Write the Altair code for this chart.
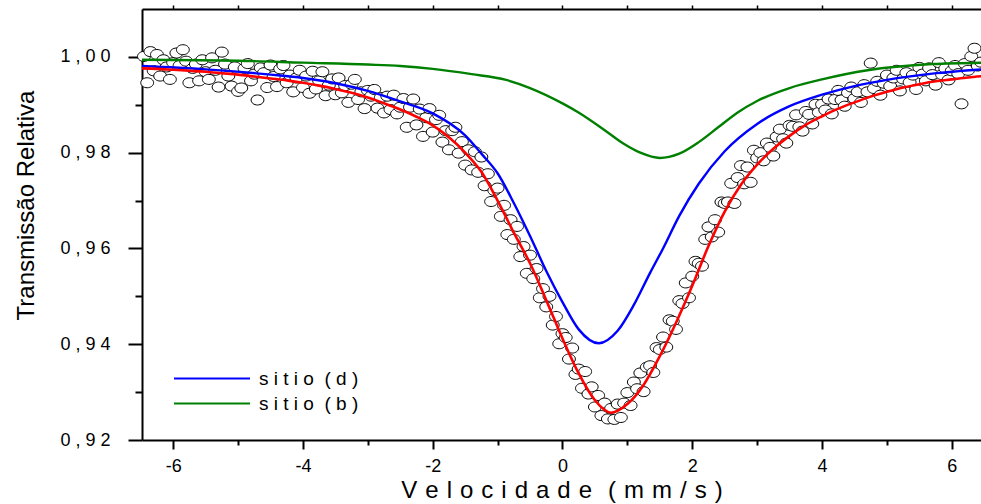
import json

import altair as alt
import numpy as np
import pandas as pd

FONT = "Liberation Sans"

# Measured Mossbauer spectrum: velocity channels 0.05 mm/s apart
velocity = np.round(np.linspace(-6.45, 6.45, 259), 2)
transmission = [
    1.0001, 0.9946, 1.0011, 0.9971, 1.0005, 0.9960, 0.9994, 0.9979, 0.9953, 0.9988,
    1.0008, 0.9982, 1.0015, 0.9991, 0.9946, 0.9976, 0.9985, 0.9950, 0.9994, 0.9969,
    0.9953, 0.9998, 0.9972, 0.9937, 1.0010, 0.9985, 0.9960, 0.9939, 0.9979, 0.9928,
    0.9935, 0.9976, 0.9986, 0.9950, 0.9964, 0.9910, 0.9977, 0.9967, 0.9936, 0.9983,
    0.9959, 0.9938, 0.9975, 0.9982, 0.9946, 0.9962, 0.9927, 0.9956, 0.9972, 0.9936,
    0.9960, 0.9924, 0.9970, 0.9933, 0.9950, 0.9969, 0.9919, 0.9941, 0.9954, 0.9921,
    0.9956, 0.9925, 0.9940, 0.9905, 0.9943, 0.9953, 0.9911, 0.9927, 0.9892, 0.9930,
    0.9918, 0.9932, 0.9893, 0.9915, 0.9883, 0.9918, 0.9890, 0.9920, 0.9881, 0.9895,
    0.9913, 0.9853, 0.9895, 0.9912, 0.9858, 0.9891, 0.9834, 0.9873, 0.9892, 0.9843,
    0.9869, 0.9878, 0.9822, 0.9846, 0.9806, 0.9846, 0.9853, 0.9799, 0.9823, 0.9774,
    0.9806, 0.9764, 0.9802, 0.9759, 0.9791, 0.9731, 0.9756, 0.9698, 0.9721, 0.9726,
    0.9667, 0.9690, 0.9629, 0.9660, 0.9619, 0.9646, 0.9583, 0.9604, 0.9548, 0.9586,
    0.9537, 0.9558, 0.9497, 0.9516, 0.9478, 0.9500, 0.9440, 0.9458, 0.9401, 0.9422,
    0.9414, 0.9369, 0.9392, 0.9337, 0.9348, 0.9308, 0.9343, 0.9296, 0.9311, 0.9269,
    0.9293, 0.9251, 0.9277, 0.9244, 0.9266, 0.9243, 0.9275, 0.9247, 0.9277, 0.9299,
    0.9272, 0.9321, 0.9307, 0.9340, 0.9301, 0.9352, 0.9355, 0.9341, 0.9393, 0.9389,
    0.9415, 0.9394, 0.9451, 0.9448, 0.9431, 0.9491, 0.9485, 0.9528, 0.9497, 0.9542,
    0.9573, 0.9569, 0.9563, 0.9619, 0.9645, 0.9624, 0.9660, 0.9634, 0.9697, 0.9694,
    0.9697, 0.9736, 0.9694, 0.9748, 0.9773, 0.9735, 0.9770, 0.9738, 0.9805, 0.9789,
    0.9800, 0.9783, 0.9820, 0.9811, 0.9793, 0.9833, 0.9849, 0.9829, 0.9820, 0.9857,
    0.9855, 0.9879, 0.9854, 0.9845, 0.9886, 0.9880, 0.9860, 0.9901, 0.9884, 0.9901,
    0.9889, 0.9912, 0.9881, 0.9911, 0.9930, 0.9910, 0.9897, 0.9925, 0.9937, 0.9913,
    0.9927, 0.9905, 0.9942, 0.9927, 0.9987, 0.9934, 0.9949, 0.9920, 0.9945, 0.9962,
    0.9939, 0.9956, 0.9972, 0.9929, 0.9954, 0.9967, 0.9947, 0.9962, 0.9932, 0.9978,
    0.9964, 0.9950, 0.9977, 0.9963, 0.9941, 0.9988, 0.9963, 0.9976, 0.9952, 0.9971,
    0.9982, 0.9965, 0.9902, 0.9986, 0.9972, 1.0001, 1.0018, 0.9981, 0.9989,
]

# Total fit
total_v = [
    -6.5, -6.25, -6.0, -5.75, -5.5, -5.25, -5.0, -4.75, -4.5, -4.25, -4.0,
    -3.75, -3.5, -3.25, -3.0, -2.75, -2.5, -2.25, -2.0, -1.75, -1.5, -1.25,
    -1.0, -0.75, -0.5, -0.25, 0.0, 0.25, 0.5, 0.75, 1.0, 1.25, 1.5, 1.75,
    2.0, 2.25, 2.5, 2.75, 3.0, 3.25, 3.5, 3.75, 4.0, 4.25, 4.5, 4.75, 5.0,
    5.25, 5.5, 5.75, 6.0, 6.25, 6.5,
]
total_t = [
    0.9976, 0.9975, 0.9973, 0.9971, 0.9969, 0.9966, 0.9963, 0.9959, 0.9955,
    0.9951, 0.9946, 0.9940, 0.9933, 0.9925, 0.9915, 0.9903, 0.9890, 0.9875,
    0.9857, 0.9832, 0.9800, 0.9760, 0.9700, 0.9633, 0.9569, 0.9492, 0.9412,
    0.9339, 0.9283, 0.9257, 0.9275, 0.9315, 0.9375, 0.9445, 0.9522, 0.9605,
    0.9677, 0.9733, 0.9775, 0.9808, 0.9835, 0.9858, 0.9876, 0.9892, 0.9905,
    0.9917, 0.9927, 0.9936, 0.9943, 0.9949, 0.9953, 0.9957, 0.9960,
]

# Sub-spectrum of site (d)
site_d_v = [
    -6.5, -5.5, -4.5, -4.0, -3.5, -3.0, -2.5, -2.0, -1.5, -1.25, -1.0, -0.75,
    -0.5, -0.25, 0.0, 0.25, 0.56, 0.85, 1.1, 1.35, 1.55, 1.8, 2.1, 2.5, 3.0,
    3.5, 4.0, 4.5, 5.0, 5.7, 6.5,
]
site_d_t = [
    0.9981, 0.9974, 0.9963, 0.9956, 0.9945, 0.9929, 0.9907, 0.9882, 0.9836,
    0.9798, 0.9757, 0.9695, 0.9626, 0.9553, 0.9488, 0.9431, 0.9402, 0.9428,
    0.9482, 0.9549, 0.9600, 0.9668, 0.9735, 0.9803, 0.9860, 0.9897, 0.9921,
    0.9939, 0.9952, 0.9965, 0.9974,
]

# Sub-spectrum of site (b)
site_b_v = [
    -6.5, -5.0, -4.0, -3.0, -2.5, -2.0, -1.4, -0.87, -0.5, 0.0, 0.26, 0.64,
    0.95, 1.2, 1.5, 1.8, 2.1, 2.4, 2.7, 3.0, 3.5, 4.0, 4.7, 5.7, 6.5,
]
site_b_t = [
    0.9994, 0.9992, 0.9988, 0.9984, 0.9981, 0.9975, 0.9964, 0.9952, 0.9935,
    0.9903, 0.9883, 0.9848, 0.9818, 0.9800, 0.9789, 0.9798, 0.9822, 0.9853,
    0.9884, 0.9908, 0.9935, 0.9953, 0.9972, 0.9985, 0.9988,
]

NB = "\u00a0"
WIDE = "\u2004"
label_d = NB.join("sitio") + NB * 2 + NB.join("(d)")
label_b = NB.join("sitio") + NB * 2 + NB.join("(b)")
x_title = WIDE.join("Velocidade") + WIDE * 2 + WIDE.join("(mm/s)")
y_title = "Transmissão Relativa"

x_major = [-6, -4, -2, 0, 2, 4, 6]
x_major_labels = ["-6", "-4", "-2", "0", "2", "4", "6"]
x_minor = [-5, -3, -1, 1, 3, 5]
y_major = [0.92, 0.94, 0.96, 0.98, 1.00]
y_major_labels = ["0 , 9 2", "0 , 9 4", "0 , 9 6", "0 , 9 8", "1 , 0 0"]
y_minor = [0.93, 0.95, 0.97, 0.99]

points_df = pd.DataFrame({"v": velocity, "t": transmission})
total_df = pd.DataFrame({"v": total_v, "t": total_t})
sites_df = pd.concat(
    [
        pd.DataFrame({"v": site_d_v, "t": site_d_t, "series": label_d}),
        pd.DataFrame({"v": site_b_v, "t": site_b_t, "series": label_b}),
    ],
    ignore_index=True,
)


def label_expr(values, labels):
    return f"{json.dumps(labels)}[indexof({json.dumps(values)}, datum.value)] || ''"


def minor_test(values):
    return f"indexof({json.dumps(values)}, datum.value) >= 0"


x_scale = alt.Scale(domain=[-6.48, 6.45], nice=False, zero=False)
y_scale = alt.Scale(domain=[0.92, 1.01], nice=False, zero=False)

bottom_axis = alt.Axis(
    orient="bottom",
    values=sorted(x_major + x_minor),
    labelExpr=label_expr(x_major, x_major_labels),
    labelOverlap=False,
    labelFlush=False,
    labelPadding=8,
    labelFont=FONT,
    labelFontSize=18,
    labelColor="black",
    tickSize=9,
    tickWidth=2,
    tickColor="black",
    tickDash={"condition": {"test": minor_test(x_minor), "value": [5, 40]}, "value": []},
    domainColor="black",
    domainWidth=2,
    grid=False,
    title=x_title,
    titleFont=FONT,
    titleFontSize=24,
    titleFontWeight="normal",
    titleColor="black",
    titleX=419.5,
    titleY=57,
    titleBaseline="alphabetic",
    titleAlign="center",
)

top_axis = alt.Axis(
    orient="top",
    values=sorted(x_major + x_minor),
    labels=False,
    title=None,
    tickSize=4,
    tickWidth=1.5,
    tickColor="black",
    domainColor="black",
    domainWidth=2,
    grid=False,
)

left_axis = alt.Axis(
    orient="left",
    values=sorted(y_major + y_minor),
    labelExpr=label_expr(y_major, y_major_labels),
    labelOverlap=False,
    labelFlush=False,
    labelPadding=18,
    labelFont=FONT,
    labelFontSize=18,
    labelColor="black",
    tickSize=14,
    tickWidth=2,
    tickColor="black",
    tickDash={"condition": {"test": minor_test(y_minor), "value": [7, 40]}, "value": []},
    domainColor="black",
    domainWidth=2,
    grid=False,
    title=y_title,
    titleFont=FONT,
    titleFontSize=24,
    titleFontWeight="normal",
    titleColor="black",
    titleX=-109,
    titleY=196,
    titleBaseline="alphabetic",
    titleAlign="center",
)

# open ellipse marker for the measured counts
ELLIPSE = "M-1,0A1,0.78,0,1,1,1,0A1,0.78,0,1,1,-1,0Z"

points = alt.Chart(points_df).mark_point(
    shape=ELLIPSE, size=165, filled=True, fill="white", stroke="black",
    strokeWidth=1, opacity=1,
).encode(
    x=alt.X("v:Q", scale=x_scale, axis=bottom_axis),
    y=alt.Y("t:Q", scale=y_scale, axis=left_axis),
)

sites = alt.Chart(sites_df).mark_line(
    interpolate="monotone", strokeWidth=2.4, clip=True,
).encode(
    x=alt.X("v:Q", scale=x_scale, axis=None),
    y=alt.Y("t:Q", scale=y_scale, axis=None),
    color=alt.Color(
        "series:N",
        scale=alt.Scale(domain=[label_d, label_b], range=["#0000ff", "#008000"]),
        legend=alt.Legend(
            orient="none",
            legendX=31,
            legendY=357,
            title=None,
            symbolType="stroke",
            symbolSize=5776,
            symbolStrokeWidth=2,
            labelFont=FONT,
            labelFontSize=19,
            labelColor="black",
            labelOffset=8,
            padding=0,
            rowPadding=0,
            clipHeight=25,
        ),
    ),
)

total = alt.Chart(total_df).mark_line(
    interpolate="monotone", color="#ff0000", strokeWidth=2.6, clip=True,
).encode(
    x=alt.X("v:Q", scale=x_scale, axis=top_axis),
    y=alt.Y("t:Q", scale=y_scale, axis=None),
)

chart = (
    alt.layer(points, sites, total)
    .resolve_axis(x="independent", y="independent")
    .properties(
        width=839,
        height=431,
        padding={"left": 142, "top": 9, "right": 0, "bottom": 64},
        autosize=alt.AutoSizeParams(type="none"),
        background="white",
    )
    .configure_view(stroke=None)
)

chart.save("out.html", embed_options={"renderer": "svg", "actions": False})
